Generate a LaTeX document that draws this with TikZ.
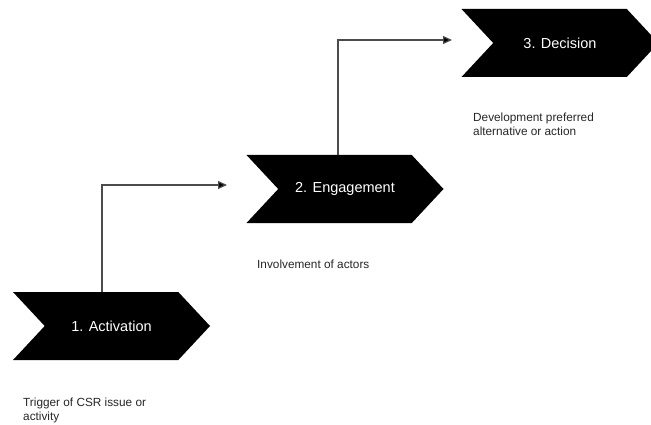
\documentclass[tikz,border=0pt]{standalone}
\usepackage{fontspec}
\setmainfont{Liberation Sans}
\usetikzlibrary{shapes.symbols,arrows.meta}
\begin{document}
\begin{tikzpicture}[x=1pt,y=-1pt,
  chev/.style={signal, signal from=west, signal to=east, signal pointer angle=94,
    fill=black, draw=none, text=white, minimum width=197pt, minimum height=68pt,
    inner sep=0pt, font=\fontsize{14.5pt}{17pt}\selectfont},
  note/.style={anchor=north west, align=left, inner sep=0pt,
    font=\fontsize{11.8pt}{14pt}\selectfont, text=black!85},
  conn/.style={draw=black!70, line width=1.2pt, -{Triangle[length=9pt,width=8pt,fill=black]}}]
\useasboundingbox (0,0) rectangle (651,425);
\clip (0,0) rectangle (651,425);
\node[chev] (c1) at (111.5,326) {1. Activation};
\node[chev] (c2) at (345,189) {2. Engagement};
\node[chev] (c3) at (560,43) {3. Decision};
\node[note] (t1) at (23,398) {Trigger of CSR issue or\\activity};
\node[note] (t2) at (257,260) {Involvement of actors};
\node[note] (t3) at (473,113) {Development preferred\\alternative or action};
\coordinate (e1) at (227,185);
\coordinate (e2) at (452,40);
\draw[conn] ([xshift=-9.5pt]c1.north) |- (e1);
\draw[conn] ([xshift=-7pt]c2.north) |- (e2);
\end{tikzpicture}
\end{document}
